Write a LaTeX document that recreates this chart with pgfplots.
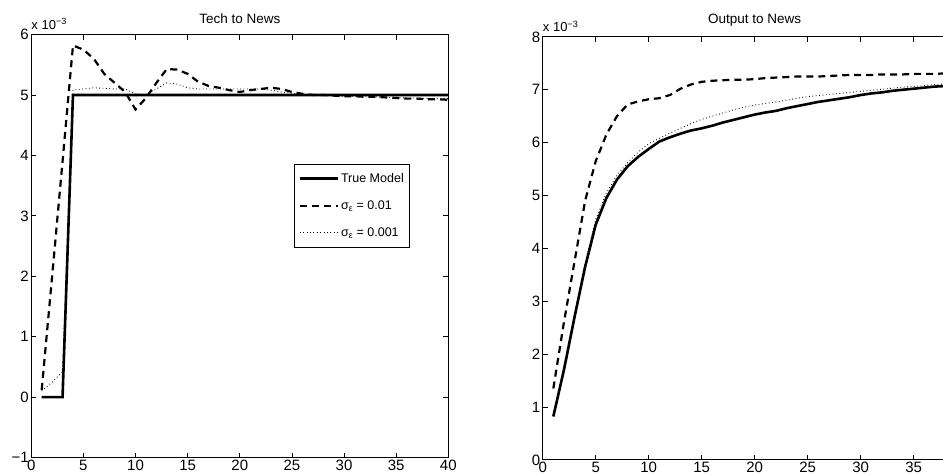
\documentclass[border=0pt]{standalone}
\usepackage{pgfplots}
\pgfplotsset{compat=1.18}
\usepackage{fontspec}
\setmainfont{Liberation Sans}
\begin{document}
\begin{tikzpicture}[x=1pt,y=1pt]
\path[use as bounding box] (0,0) rectangle (943,476);
\pgfplotsset{
  every axis/.append style={
    scale only axis,
    clip mode=individual,
    axis line style={line width=1pt},
    tick align=inside,
    major tick length=5pt,
    every tick/.style={black,line width=0.8pt},
    tick label style={font=\fontsize{15}{17}\selectfont},
    /pgf/number format/assume math mode=true,
    xmin=0,xmax=40,
    xtick={0,5,...,40},
    title style={font=\fontsize{13.5}{15}\selectfont,yshift=1pt},
    xticklabel style={yshift=1pt},
    yticklabel style={xshift=1pt},
  },
  truestyle/.style={black,line width=2.6pt},
  dashstyle/.style={black,line width=2.2pt,dash pattern=on 7pt off 5pt},
  dotstyle/.style={black,line width=0.9pt,dash pattern=on 0.8pt off 2.6pt},
}
\begin{scope}[overlay]
\begin{axis}[
  at={(30,30.5)}, anchor=south west,
  width=417pt, height=423pt,
  ymin=-1, ymax=6,
  ytick={-1,0,1,2,3,4,5,6},
  yticklabels={−1,0,1,2,3,4,5,6},
  title={Tech to News},
  legend style={at={(rel axis cs:0.63,0.695)},anchor=north west,draw=black,line width=0.9pt,
    font=\fontsize{12.5}{14}\selectfont,row sep=13pt,inner xsep=4pt,inner ysep=7pt},
  legend cell align=left,
  legend image code/.code={\draw[#1] (0pt,0pt) -- (38pt,0pt);},
]
\addplot[truestyle] coordinates {
(1,0)(2,0)(3,0)(4,5)(5,5)(6,5)(7,5)(8,5)(9,5)(10,5)(11,5)(12,5)(13,5)(14,5)(15,5)(16,5)(17,5)(18,5)(19,5)(20,5)
(21,5)(22,5)(23,5)(24,5)(25,5)(26,5)(27,5)(28,5)(29,5)(30,5)(31,5)(32,5)(33,5)(34,5)(35,5)(36,5)(37,5)(38,5)(39,5)(40,5)};
\addlegendentry{True Model}
\addplot[dashstyle] coordinates {
(1,0.12)(2,2.0)(3,3.9)(4,5.82)(5,5.75)(6,5.6)(7,5.35)(8,5.2)(9,5.05)(10,4.76)(11,4.95)(12,5.2)(13,5.43)(14,5.42)(15,5.35)
(16,5.22)(17,5.15)(18,5.12)(19,5.08)(20,5.05)(21,5.08)(22,5.1)(23,5.12)(24,5.1)(25,5.05)(26,5.02)(27,5.0)(28,5.0)(29,4.99)(30,4.98)
(31,4.98)(32,4.97)(33,4.97)(34,4.96)(35,4.95)(36,4.94)(37,4.94)(38,4.93)(39,4.93)(40,4.92)};
\addlegendentry{σ\textsubscript{ε} = 0.01}
\addplot[dotstyle] coordinates {
(1,0.1)(2,0.25)(3,0.42)(4,5.08)(5,5.1)(6,5.12)(7,5.11)(8,5.1)(9,5.1)(10,5.02)(11,5.0)(12,5.1)(13,5.2)(14,5.18)(15,5.12)
(16,5.1)(17,5.1)(18,5.1)(19,5.1)(20,5.1)(21,5.1)(22,5.1)(23,5.08)(24,5.05)(25,5.03)(26,5.01)(27,5.0)(28,5.0)(29,4.99)(30,4.98)
(31,4.98)(32,4.97)(33,4.97)(34,4.96)(35,4.96)(36,4.95)(37,4.95)(38,4.94)(39,4.94)(40,4.94)};
\addlegendentry{σ\textsubscript{ε} = 0.001}
\node[anchor=south west,font=\fontsize{13}{15}\selectfont,inner sep=0pt] at (rel axis cs:0,1) [yshift=5pt] {x 10\textsuperscript{−3}};
\end{axis}
\begin{axis}[
  at={(512,30.5)}, anchor=south west,
  width=424pt, height=423pt,
  ymin=0, ymax=8,
  ytick={0,1,...,8},
  title={Output to News},
]
\addplot[truestyle] coordinates {
(1,0.82)(2,1.7)(3,2.7)(4,3.65)(5,4.45)(6,4.95)(7,5.3)(8,5.55)(9,5.73)(10,5.88)(11,6.02)(12,6.1)(13,6.17)(14,6.23)(15,6.27)
(16,6.32)(17,6.38)(18,6.43)(19,6.48)(20,6.53)(21,6.57)(22,6.6)(23,6.65)(24,6.69)(25,6.73)(26,6.77)(27,6.8)(28,6.83)(29,6.86)(30,6.9)
(31,6.93)(32,6.95)(33,6.98)(34,7.0)(35,7.02)(36,7.04)(37,7.06)(38,7.07)(39,7.09)(40,7.12)};
\addplot[dashstyle] coordinates {
(1,1.35)(2,2.6)(3,3.75)(4,4.9)(5,5.65)(6,6.15)(7,6.5)(8,6.72)(9,6.78)(10,6.82)(11,6.84)(12,6.9)(13,7.02)(14,7.1)(15,7.15)
(16,7.17)(17,7.18)(18,7.19)(19,7.19)(20,7.2)(21,7.22)(22,7.23)(23,7.24)(24,7.25)(25,7.25)(26,7.25)(27,7.26)(28,7.27)(29,7.28)(30,7.28)
(31,7.28)(32,7.29)(33,7.29)(34,7.29)(35,7.3)(36,7.3)(37,7.3)(38,7.31)(39,7.31)(40,7.31)};
\addplot[dotstyle] coordinates {
(1,0.85)(2,1.75)(3,2.75)(4,3.72)(5,4.55)(6,5.05)(7,5.38)(8,5.62)(9,5.82)(10,5.98)(11,6.08)(12,6.18)(13,6.27)(14,6.36)(15,6.44)
(16,6.5)(17,6.56)(18,6.62)(19,6.67)(20,6.71)(21,6.74)(22,6.77)(23,6.8)(24,6.84)(25,6.87)(26,6.89)(27,6.91)(28,6.93)(29,6.95)(30,6.97)
(31,6.99)(32,7.01)(33,7.03)(34,7.05)(35,7.06)(36,7.08)(37,7.1)(38,7.11)(39,7.13)(40,7.15)};
\node[anchor=south west,font=\fontsize{13}{15}\selectfont,inner sep=0pt] at (rel axis cs:0,1) [yshift=5pt] {x 10\textsuperscript{−3}};
\end{axis}
\end{scope}
\end{tikzpicture}
\end{document}
